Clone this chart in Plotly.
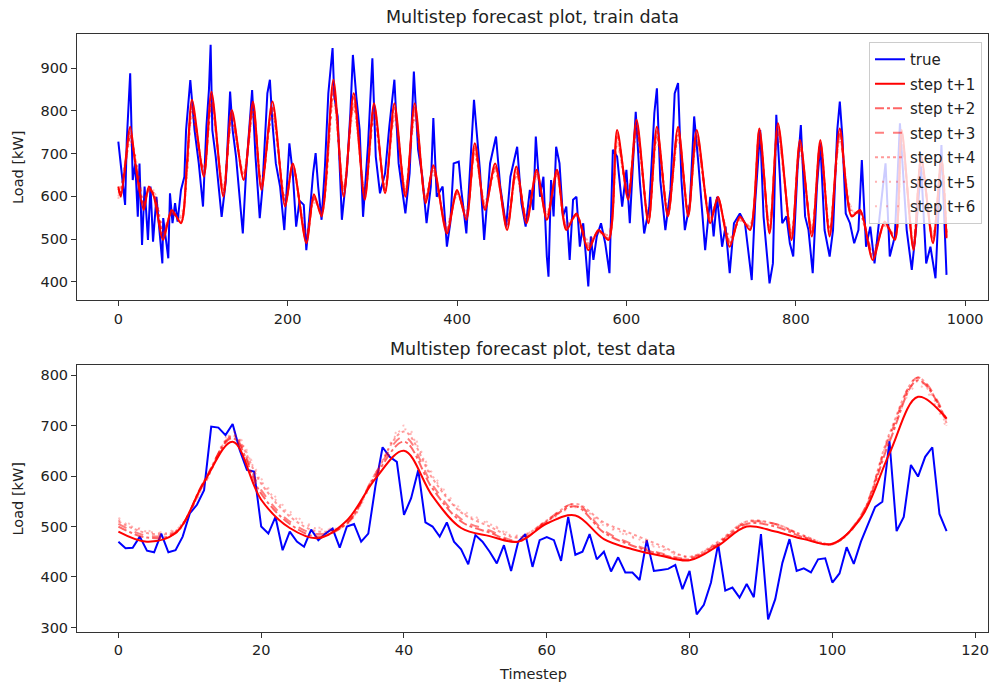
import plotly.graph_objects as go

# ---------------- train data (key points) ----------------
train_true_t = [0, 8, 10, 14, 17, 20, 23, 25, 28, 31, 35, 38, 41, 45, 52, 53, 59, 61, 64, 67, 70, 74, 78, 80, 85,
                90, 95, 100, 104, 107, 109, 111, 115, 122, 127, 132, 135, 139, 147, 151, 158, 162, 167, 170, 176, 179,
                182, 186, 191, 196, 202, 206, 210, 214, 219, 222, 226, 230, 233, 236, 240, 244, 248, 253, 255, 259,
                264, 270, 274, 277, 281, 285, 289, 295, 300, 304, 309, 315, 320, 326, 331, 339, 344, 349, 354, 359,
                364, 369, 372, 376, 383, 388, 392, 396, 402, 405, 411, 416, 420, 423, 427, 432, 439, 446, 451, 458,
                463, 471, 476, 481, 486, 490, 493, 498, 502, 506, 508, 511, 514, 517, 521, 525, 529, 533, 537, 541,
                545, 549, 555, 558, 561, 565, 570, 575, 580, 584, 589, 595, 600, 604, 611, 616, 621, 627, 633, 636,
                640, 646, 652, 657, 661, 665, 669, 675, 680, 685, 689, 693, 699, 703, 707, 713, 717, 722, 727, 734,
                740, 748, 752, 758, 762, 766, 769, 773, 777, 781, 784, 789, 793, 797, 802, 806, 811, 815, 820, 825,
                829, 834, 840, 844, 849, 852, 855, 859, 864, 869, 874, 878, 883, 888, 893, 899, 906, 911, 917, 923,
                926, 931, 937, 943, 948, 954, 959, 965, 972, 977, 978]
train_true_v = [728, 580, 732, 888, 638, 677, 552, 677, 486, 623, 498, 623, 494, 599, 443, 549, 455, 607, 537, 584,
                541, 615, 646, 755, 872, 755, 677, 576, 763, 849, 955, 755, 693, 552, 638, 845, 755, 693, 513, 662,
                849, 693, 549, 615, 841, 873, 771, 677, 623, 521, 724, 654, 529, 590, 580, 474, 560, 654, 701, 623,
                545, 670, 841, 947, 834, 787, 545, 662, 795, 931, 834, 755, 552, 724, 923, 693, 607, 654, 763, 873,
                677, 560, 654, 892, 709, 646, 537, 623, 783, 599, 623, 482, 537, 677, 681, 615, 513, 677, 826, 755,
                662, 498, 677, 740, 623, 529, 646, 716, 584, 529, 615, 568, 740, 599, 646, 459, 412, 638, 553, 716,
                677, 553, 576, 451, 592, 599, 482, 537, 389, 506, 451, 506, 537, 490, 420, 709, 693, 576, 662, 537,
                798, 631, 513, 576, 795, 853, 638, 521, 615, 841, 865, 638, 521, 584, 787, 677, 584, 474, 599, 506,
                599, 482, 529, 420, 537, 560, 537, 404, 584, 755, 552, 459, 396, 443, 791, 654, 537, 553, 490, 459,
                662, 767, 553, 521, 420, 623, 724, 521, 459, 521, 755, 822, 740, 560, 537, 490, 521, 685, 482, 529,
                443, 553, 677, 459, 506, 771, 677, 521, 428, 545, 670, 443, 482, 408, 720, 467, 416]

train_pred_t = [0, 3, 14, 20, 30, 36, 42, 53, 63, 74, 81, 87, 101, 110, 124, 134, 148, 159, 169, 182, 197, 206, 222,
                231, 240, 254, 266, 278, 291, 302, 315, 326, 339, 350, 363, 372, 388, 400, 411, 421, 433, 445, 459,
                470, 482, 494, 506, 518, 529, 541, 555, 567, 579, 589, 602, 612, 626, 636, 649, 661, 673, 683, 699,
                708, 722, 734, 746, 757, 769, 779, 795, 805, 819, 829, 840, 852, 866, 876, 891, 905, 917, 925, 939,
                948, 962, 972, 978]
train_step1 = [623, 599, 763, 677, 568, 623, 599, 498, 568, 537, 677, 826, 646, 845, 599, 802, 638, 822, 615, 822,
               576, 677, 490, 605, 553, 873, 599, 841, 592, 818, 607, 818, 599, 818, 584, 673, 513, 615, 545, 724,
               568, 677, 521, 670, 537, 662, 545, 662, 521, 560, 474, 521, 498, 755, 592, 779, 537, 763, 553, 763,
               553, 755, 537, 599, 482, 553, 521, 759, 513, 771, 498, 732, 506, 732, 506, 759, 553, 568, 451, 541,
               498, 755, 474, 693, 490, 693, 502]
train_step2 = [618, 605, 750, 680, 575, 618, 602, 505, 565, 540, 670, 815, 650, 835, 605, 795, 640, 815, 620, 812,
               580, 675, 495, 600, 558, 860, 605, 832, 598, 810, 610, 808, 603, 808, 588, 668, 518, 612, 550, 718,
               572, 672, 526, 665, 540, 658, 548, 658, 525, 558, 480, 520, 502, 748, 596, 770, 540, 756, 556, 756,
               556, 748, 540, 596, 487, 550, 524, 752, 516, 764, 502, 726, 510, 726, 510, 752, 556, 565, 456, 538,
               502, 748, 478, 688, 494, 688, 505]
train_step3 = [612, 610, 742, 684, 580, 615, 605, 510, 562, 545, 664, 806, 655, 826, 610, 788, 645, 806, 625, 805,
               585, 672, 500, 596, 562, 850, 610, 824, 603, 802, 614, 800, 607, 800, 592, 664, 522, 610, 555, 712,
               575, 668, 530, 660, 544, 654, 552, 654, 529, 556, 485, 518, 506, 740, 600, 762, 544, 750, 560, 750,
               560, 742, 544, 594, 492, 548, 527, 745, 520, 757, 506, 720, 514, 720, 514, 746, 560, 562, 461, 536,
               506, 742, 482, 683, 498, 683, 508]
train_step4 = [606, 615, 735, 688, 586, 612, 608, 516, 560, 550, 658, 798, 660, 818, 615, 780, 650, 798, 630, 798,
               590, 668, 506, 592, 566, 840, 615, 816, 608, 795, 618, 792, 612, 792, 596, 660, 527, 607, 560, 706,
               580, 664, 535, 655, 548, 650, 556, 650, 533, 554, 490, 516, 510, 732, 605, 755, 548, 743, 565, 743,
               565, 736, 548, 592, 497, 546, 530, 738, 525, 750, 510, 714, 518, 714, 518, 740, 564, 560, 466, 534,
               510, 735, 487, 678, 502, 678, 511]
train_step5 = [600, 620, 728, 692, 592, 610, 611, 522, 558, 555, 652, 790, 665, 810, 620, 772, 655, 790, 635, 790,
               595, 664, 512, 588, 570, 830, 620, 808, 613, 788, 622, 785, 616, 785, 600, 656, 532, 604, 565, 700,
               585, 660, 540, 650, 552, 646, 560, 646, 537, 552, 496, 514, 514, 724, 610, 748, 552, 736, 570, 736,
               570, 730, 552, 590, 502, 544, 533, 731, 530, 743, 514, 708, 522, 708, 522, 734, 568, 558, 471, 532,
               514, 728, 492, 673, 506, 673, 514]
train_step6 = [594, 625, 720, 696, 598, 608, 614, 528, 556, 560, 646, 782, 670, 802, 625, 765, 660, 782, 640, 782,
               600, 660, 518, 584, 574, 820, 625, 800, 618, 780, 626, 778, 620, 778, 604, 652, 537, 601, 570, 694,
               590, 656, 545, 645, 556, 642, 564, 642, 541, 550, 502, 512, 518, 716, 615, 740, 556, 730, 575, 730,
               575, 724, 556, 588, 507, 542, 536, 724, 535, 736, 518, 702, 526, 702, 526, 728, 572, 556, 476, 530,
               518, 721, 497, 668, 510, 668, 517]

# ---------------- test data ----------------
test_true = [470, 457, 458, 480, 452, 449, 486, 449, 453, 480, 526, 543, 572, 698, 696, 681, 703, 651, 612, 609,
             500, 486, 519, 453, 490, 470, 460, 494, 473, 486, 496, 458, 500, 505, 470, 486, 580, 657, 638, 628,
             523, 556, 612, 508, 500, 480, 508, 470, 455, 425, 483, 470, 450, 427, 463, 412, 470, 485, 420, 473,
             479, 473, 432, 519, 444, 450, 485, 435, 450, 411, 439, 409, 409, 394, 473, 412, 414, 416, 424, 376,
             412, 326, 345, 389, 465, 373, 379, 359, 386, 360, 485, 316, 356, 428, 475, 412, 417, 409, 435, 437,
             389, 407, 459, 426, 470, 505, 539, 549, 669, 491, 519, 622, 599, 638, 657, 525, 491]
test_pred_t = [0, 4, 8, 12, 16, 20, 24, 28, 32, 36, 40, 44, 48, 52, 56, 60, 64, 68, 72, 76, 80, 84, 88, 92, 96,
               100, 104, 108, 112, 116]
test_step1 = [490, 470, 487, 588, 668, 553, 497, 477, 512, 595, 650, 560, 497, 481, 470, 506, 522, 475, 455, 442,
              433, 462, 500, 490, 475, 466, 517, 645, 757, 714]
test_step2 = [500, 478, 487, 590, 675, 565, 505, 480, 507, 600, 668, 575, 510, 488, 470, 510, 540, 488, 462, 445,
              435, 465, 505, 500, 478, 465, 520, 668, 790, 710]
test_step3 = [505, 482, 489, 588, 678, 572, 510, 485, 506, 605, 678, 582, 515, 492, 472, 512, 545, 492, 465, 447,
              437, 467, 508, 505, 480, 465, 522, 678, 795, 712]
test_step4 = [510, 487, 491, 585, 680, 585, 520, 490, 505, 605, 688, 595, 528, 500, 478, 512, 545, 508, 485, 462,
              440, 470, 510, 505, 482, 466, 520, 684, 795, 705]
test_step5 = [513, 490, 493, 582, 683, 590, 525, 495, 505, 602, 693, 600, 530, 505, 480, 510, 540, 505, 480, 458,
              440, 468, 510, 505, 482, 466, 518, 680, 788, 700]
test_step6 = [517, 492, 495, 580, 688, 595, 530, 498, 505, 600, 700, 605, 535, 507, 482, 508, 538, 502, 478, 455,
              440, 466, 508, 505, 482, 466, 515, 675, 780, 695]

step_names = ["step t+1", "step t+2", "step t+3", "step t+4", "step t+5", "step t+6"]
step_colors = ["rgba(255,0,0,1)", "rgba(255,0,0,0.6)", "rgba(255,0,0,0.5)",
               "rgba(255,0,0,0.4)", "rgba(255,0,0,0.3)", "rgba(255,0,0,0.25)"]
step_dash = ["solid", "dashdot", "dash", "dot", "2px,5px", "2px,9px"]

FONT = "DejaVu Sans"
fig = go.Figure()

# top plot
fig.add_trace(go.Scatter(x=train_true_t, y=train_true_v, mode="lines", name="true", legendgroup="g0",
                         line=dict(color="blue", width=2), xaxis="x", yaxis="y"))
for i, ys in enumerate([train_step1, train_step2, train_step3, train_step4, train_step5, train_step6]):
    fig.add_trace(go.Scatter(x=train_pred_t, y=ys, mode="lines", name=step_names[i], legendgroup="g%d" % (i + 1),
                             line=dict(color=step_colors[i], width=2, dash=step_dash[i], shape="spline",
                                       smoothing=0.8),
                             xaxis="x", yaxis="y"))

# bottom plot
test_t = list(range(len(test_true)))
fig.add_trace(go.Scatter(x=test_t, y=test_true, mode="lines", name="true", showlegend=False, legendgroup="g0",
                         line=dict(color="blue", width=2), xaxis="x2", yaxis="y2"))
for i, ys in enumerate([test_step1, test_step2, test_step3, test_step4, test_step5, test_step6]):
    fig.add_trace(go.Scatter(x=test_pred_t, y=ys, mode="lines", name=step_names[i], showlegend=False,
                             legendgroup="g%d" % (i + 1),
                             line=dict(color=step_colors[i], width=2, dash=step_dash[i], shape="spline",
                                       smoothing=1.0),
                             xaxis="x2", yaxis="y2"))

axis_common = dict(showline=True, mirror=True, linecolor="#333", linewidth=1, ticks="outside", ticklen=5,
                   tickcolor="#333", showgrid=False, zeroline=False, automargin=False,
                   tickfont=dict(family=FONT, size=14.5, color="#222"))

fig.update_layout(
    width=989, height=684,
    margin=dict(l=77, r=1, t=34, b=52, autoexpand=False),
    paper_bgcolor="white", plot_bgcolor="white",
    font=dict(family=FONT, color="#222"),
    xaxis=dict(domain=[0, 1], anchor="y", range=[-48.8, 1027], tickvals=[0, 200, 400, 600, 800, 1000],
               **axis_common),
    yaxis=dict(domain=[0.555, 1], anchor="x", range=[357, 980], tickvals=[400, 500, 600, 700, 800, 900],
               **axis_common),
    xaxis2=dict(domain=[0, 1], anchor="y2", range=[-5.8, 121.8], tickvals=[0, 20, 40, 60, 80, 100, 120],
                **axis_common),
    yaxis2=dict(domain=[0, 0.4465], anchor="x2", range=[291, 820], tickvals=[300, 400, 500, 600, 700, 800],
                **axis_common),
    legend=dict(x=0.9934, y=0.9866, xanchor="right", yanchor="top", bgcolor="rgba(255,255,255,0.8)",
                bordercolor="#cccccc", borderwidth=1, font=dict(family=FONT, size=15, color="#222"),
                traceorder="grouped", tracegroupgap=2),
    showlegend=True,
    annotations=[
        dict(text="Multistep forecast plot, train data", x=0.5, y=1.0284, xref="paper", yref="paper",
             showarrow=False, xanchor="center", yanchor="middle", font=dict(family=FONT, size=17.5, color="#222")),
        dict(text="Multistep forecast plot, test data", x=0.5, y=0.4732, xref="paper", yref="paper",
             showarrow=False, xanchor="center", yanchor="middle", font=dict(family=FONT, size=17.5, color="#222")),
        dict(text="Load [kW]", x=-0.0648, y=0.7776, xref="paper", yref="paper", textangle=-90,
             showarrow=False, xanchor="center", yanchor="middle", font=dict(family=FONT, size=14.5, color="#222")),
        dict(text="Load [kW]", x=-0.0648, y=0.2232, xref="paper", yref="paper", textangle=-90,
             showarrow=False, xanchor="center", yanchor="middle", font=dict(family=FONT, size=14.5, color="#222")),
        dict(text="Timestep", x=0.5, y=-0.0702, xref="paper", yref="paper",
             showarrow=False, xanchor="center", yanchor="middle", font=dict(family=FONT, size=14.5, color="#222")),
    ],
)

fig.write_html("out.html", config={"displayModeBar": False},
               post_script="document.body.style.margin='0';document.body.style.overflow='hidden';")
